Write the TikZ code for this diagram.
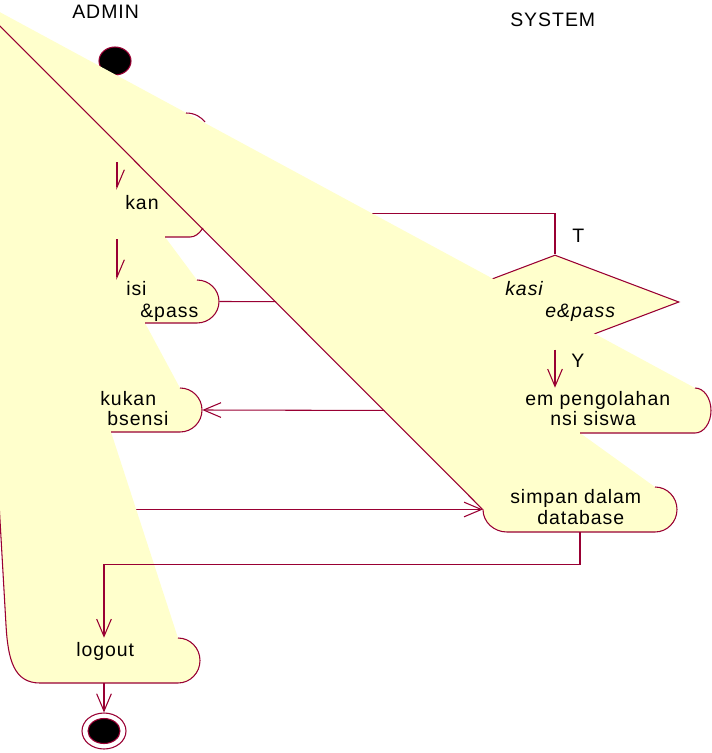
\documentclass[tikz,border=0pt]{standalone}
\usepackage{fontspec}
\setmainfont{Liberation Sans}[LetterSpace=5]
\usepackage{tikz}
\usetikzlibrary{arrows.meta,shapes.geometric}
\definecolor{roseyellow}{RGB}{255,255,204}
\definecolor{rosered}{RGB}{153,0,51}
\newcommand{\diagfont}{\fontsize{14.6}{17}\selectfont}

\begin{document}
\begin{tikzpicture}[x=0.75pt, y=-0.75pt,
    outline/.style={draw=rosered, line width=0.8pt},
    flow/.style={draw=rosered, line width=0.8pt, -{Straight Barb[length=13pt, width=11pt]}},
    halfflow/.style={draw=rosered, line width=0.8pt, -{Straight Barb[left, length=13pt, width=11pt]}},
    act/.style={shape=rectangle, inner sep=0pt, draw=none},
    initial/.style={shape=ellipse, draw=rosered, fill=black, line width=0.8pt, inner sep=0pt, minimum width=24pt, minimum height=21pt},
    final/.style={shape=ellipse, draw=rosered, fill=white, line width=0.8pt, inner sep=0pt, minimum width=33pt, minimum height=27pt},
    decision/.style={shape=diamond, draw=rosered, fill=roseyellow, line width=0.8pt, inner sep=0pt, minimum width=186pt, minimum height=70.5pt},
    lbl/.style={anchor=base west, inner sep=0pt, font=\diagfont}]
    \useasboundingbox (0,0) rectangle (712,753);
    \clip (0,0) rectangle (712,753);

    \node[lbl] (admin) at (72,18.3) {ADMIN};
    \node[lbl] (system) at (510,26.7) {SYSTEM};

    % states
    \node[initial] (start) at (115,61) {};
    \node[act, minimum width=147pt, minimum height=35.25pt] (masuk) at (115,213.5) {};
    \node[act, minimum width=153pt, minimum height=32.25pt] (isi) at (117,301.5) {};
    \node[act, minimum width=138pt, minimum height=33pt] (absensi) at (110,410) {};
    \node[decision] (verif) at (555,302) {};
    \node[act, minimum width=234pt, minimum height=33.75pt] (sistem) at (555,410.5) {};
    \node[act, minimum width=145.5pt, minimum height=33.75pt] (simpan) at (580,509.5) {};
    \node[act, minimum width=144pt, minimum height=33.75pt] (logout) at (104,660.5) {};
    \coordinate (apex) at (-30,-4);

    \draw[flow] (isi.east) -- (verif.west);
    \draw[flow] (verif.north) |- (masuk.east);
    \draw[flow] (sistem.west) -- (absensi.east);
    \draw[flow] (absensi.south) |- (simpan.west);

    % the yellow fill
    \fill[roseyellow] (apex) -- (695,388)
        arc[start angle=-90, end angle=90, x radius=16, y radius=22.5] -- (580,433) -- (655,487)
        arc[start angle=-90, end angle=90, x radius=22, y radius=22.5] -- (507,532)
        arc[start angle=90, end angle=180, x radius=24, y radius=22.5] -- (203,228)
        .. controls (199,234) and (195,237) .. (190,237) -- (165,237) -- (197,280)
        arc[start angle=-90, end angle=90, x radius=22, y radius=21.5] -- (145,323) -- (180,388)
        arc[start angle=-90, end angle=90, x radius=22, y radius=22] -- (111,432) -- (178,638)
        arc[start angle=-90, end angle=90, x radius=22, y radius=22.5] -- (40,683)
        .. controls (14,683) and (8,660) .. (6,625) -- cycle;

    \draw[outline] (apex) -- (simpan.west);
    \draw[outline] (695,388) arc[start angle=-90, end angle=90, x radius=16, y radius=22.5] -- (580,433);
    \draw[outline] (655,487) arc[start angle=-90, end angle=90, x radius=22, y radius=22.5] -- (507,532)
        arc[start angle=90, end angle=180, x radius=24, y radius=22.5];
    \draw[outline] (203,228) .. controls (199,234) and (195,237) .. (190,237) -- (165,237);
    \draw[outline] (197,280) arc[start angle=-90, end angle=90, x radius=22, y radius=21.5] -- (145,323);
    \draw[outline] (180,388) arc[start angle=-90, end angle=90, x radius=22, y radius=22] -- (111,432);
    \draw[outline] (178,638) arc[start angle=-90, end angle=90, x radius=22, y radius=22.5] -- (40,683)
        .. controls (14,683) and (8,660) .. (6,625) -- (apex);
    \draw[outline] (186,113) .. controls (195,113) and (201,117) .. (205,122);

    \coordinate (a1) at (117,162);
    \coordinate (a2) at (117,239);
    \draw[halfflow] (a1) -- (a1 |- masuk.north);
    \draw[halfflow] (a2) -- (a2 |- isi.north);
    \draw[flow] (verif.south) -- (sistem.north);
    \draw[flow] (simpan.south) -- ++(0,32) -| (logout.north);
    \node[final] (stop) at (104,731) {};
    \node[initial, minimum width=24pt, minimum height=18.75pt] (stopdot) at (stop) {};
    \draw[flow] (logout.south) -- (stop.north);

    \node[lbl] (tlabel) at (572,242) {T};
    \node[lbl] (ylabel) at (571,367) {Y};

    \node[lbl] (masuk-a) at (125,209) {kan};
    \node[lbl] (isi-a) at (126,295) {isi};
    \node[lbl] (isi-b) at (140,317) {\&pass};
    \node[lbl] (absensi-a) at (100,405) {kukan};
    \node[lbl] (absensi-b) at (107,425.5) {bsensi};
    \node[lbl, font=\diagfont\itshape] (verif-a) at (505,295) {kasi};
    \node[lbl, font=\diagfont\itshape] (verif-b) at (545,317) {e\&pass};
    \node[lbl] (sistem-a) at (525,405.5) {em pengolahan};
    \node[lbl] (sistem-b) at (550,425) {nsi siswa};
    \node[lbl] (simpan-a) at (510,503) {simpan dalam};
    \node[lbl] (simpan-b) at (537,524.5) {database};
    \node[lbl] (logout-a) at (76,656) {logout};
\end{tikzpicture}
\end{document}
